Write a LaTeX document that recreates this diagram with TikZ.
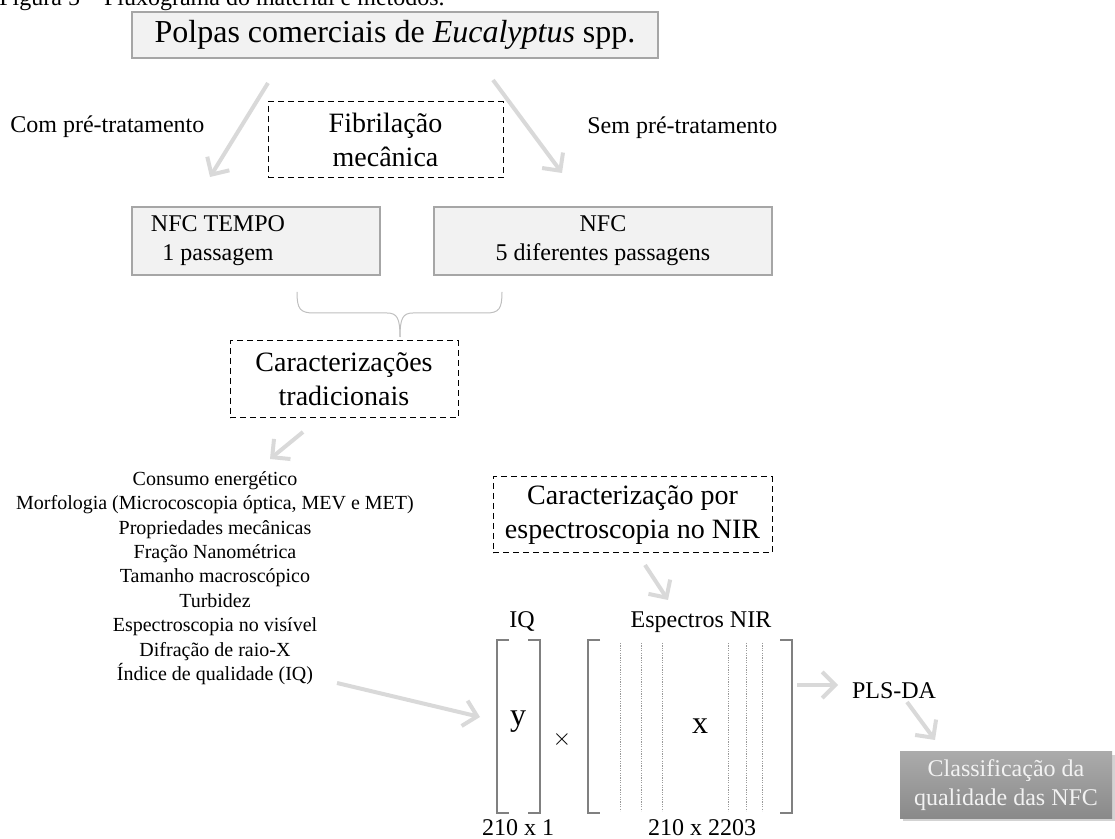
\documentclass[tikz,border=0pt]{standalone}
\usepackage{fontspec}
\setmainfont{Liberation Serif}
\usepackage{tikz}
\usetikzlibrary{positioning}
\usetikzlibrary{arrows.meta}
\usetikzlibrary{shadows}

\definecolor{boxfill}{HTML}{F2F2F2}
\definecolor{boxline}{HTML}{A6A6A6}
\definecolor{arrowgray}{HTML}{D9D9D9}
\definecolor{bracegray}{HTML}{BFBFBF}
\definecolor{matgray}{HTML}{808080}
\definecolor{clstop}{HTML}{ABABAB}
\definecolor{clsbot}{HTML}{8A8A8A}
\definecolor{clstext}{HTML}{F2F2F2}

\tikzset{graybox/.style={draw=boxline,fill=boxfill,line width=0.6pt,inner sep=0pt,align=center}}
\tikzset{dashbox/.style={draw,line width=0.5pt,dash pattern=on 3pt off 2pt,inner sep=0pt,align=center,font=\fontsize{14}{17}\selectfont}}
\tikzset{flowarrow/.style={draw=arrowgray,line width=2pt,-{Straight Barb[length=6.5pt,width=13pt]}}}
\tikzset{lbl/.style={inner sep=0pt,font=\fontsize{12}{14.5}\selectfont}}

\begin{document}
\begin{tikzpicture}[x=0.5pt,y=-0.5pt]
\useasboundingbox (0,0) rectangle (1115,839);
\node[lbl,anchor=base west] (caption) at (-1,6) {Figura 5 -- Fluxograma do material e métodos.};
\node[graybox,minimum width=263pt,minimum height=23pt,font=\fontsize{16}{19}\selectfont] (polpas) at (395,35) {Polpas comerciais de \textit{Eucalyptus} spp.};
\node[dashbox,minimum width=117.5pt,minimum height=38pt] (fibril) at (385.5,140) {Fibrilação\\mecânica};
\node[lbl,anchor=base west] (com) at (10,133) {Com pré-tratamento};
\node[lbl,anchor=base west] (sem) at (587,134) {Sem pré-tratamento};
\coordinate (polpasL) at (268,83);
\coordinate (polpasR) at (493,80);
\coordinate (tempoin) at (210,177);
\coordinate (nfcin) at (562,173);
\draw[flowarrow] (polpasL) -- (tempoin);
\draw[flowarrow] (polpasR) -- (nfcin);
% NFC
\node[graybox,minimum width=124pt,minimum height=34pt] (tempo) at (256,241) {};
\node[lbl,align=center] (tempotxt) at (218,241) {NFC TEMPO\\1 passagem};
\node[graybox,lbl,minimum width=169pt,minimum height=34pt] (nfc) at (603,241) {NFC\\5 diferentes passagens};
% chave
\coordinate (bracetip) at (400,337);
\draw[bracegray,line width=0.5pt] (297,292) .. controls (297,309) and (300,313) .. (314,313) -- (387,313) .. controls (397,313) and (400,318) .. (bracetip);
\draw[bracegray,line width=0.5pt] (502,292) .. controls (502,309) and (499,313) .. (486,313) -- (413,313) .. controls (403,313) and (400,318) .. (bracetip);
\node[dashbox,minimum width=114pt,minimum height=38.5pt] (trad) at (344,379.5) {Caracterizações\\tradicionais};
\coordinate (tradout) at (303,432);
\coordinate (listain) at (270,459);
\draw[flowarrow] (tradout) -- (listain);
\node[inner sep=0pt,align=center,font=\fontsize{10}{12.2}\selectfont] (lista) at (215,578) {Consumo energético\\Morfologia (Microcoscopia óptica, MEV e MET)\\Propriedades mecânicas\\Fração Nanométrica\\Tamanho macroscópico\\Turbidez\\Espectroscopia no visível\\Difração de raio-X\\Índice de qualidade (IQ)};
\coordinate (listaout) at (337,683);
\coordinate (yin) at (480,717);
\draw[flowarrow] (listaout) -- (yin);
% NIR
\node[dashbox,minimum width=139.5pt,minimum height=38pt] (nir) at (632.5,515) {Caracterização por\\espectroscopia no NIR};
\coordinate (nirout) at (645,565);
\coordinate (xin) at (668,600);
\draw[flowarrow] (nirout) -- (xin);
\node[lbl,anchor=base] (iq) at (522,628) {IQ};
\node[lbl,anchor=base] (espectros) at (701,628) {Espectros NIR};
\draw[matgray,line width=1pt] (509,640) -- (497,640) -- (497,813) -- (509,813);
\draw[matgray,line width=1pt] (528,640) -- (540,640) -- (540,813) -- (528,813);
\draw[matgray,line width=1pt] (600,640) -- (588,640) -- (588,813) -- (600,813);
\draw[matgray,line width=1pt] (780,640) -- (792,640) -- (792,813) -- (780,813);
\foreach \xx in {620,641,662,728,746,762} {
\draw[matgray!80,line width=0.3pt,dash pattern=on 0.6pt off 0.6pt] (\xx,643) -- (\xx,811);
}
\node[inner sep=0pt,font=\fontsize{16}{19}\selectfont] (y) at (518,722) {y};
\node[lbl] (times) at (562,740) {$\times$};
\node[inner sep=0pt,font=\fontsize{16}{19}\selectfont] (x) at (700,726) {x};
\node[lbl,anchor=base] (dimy) at (518,835) {210 x 1};
\node[lbl,anchor=base] (dimx) at (702,835) {210 x 2203};
\coordinate (xout) at (797,685);
\coordinate (plsin) at (838,685);
\draw[flowarrow] (xout) -- (plsin);
\node[lbl,anchor=base] (pls) at (894,698) {PLS-DA};
\coordinate (plsout) at (907,702);
\coordinate (clsin) at (935,740);
\draw[flowarrow] (plsout) -- (clsin);
\node[lbl,align=center,text=clstext,minimum width=106pt,minimum height=33pt,top color=clstop,bottom color=clsbot,drop shadow={shadow xshift=1.5pt,shadow yshift=-1.5pt,opacity=0.35}] (cls) at (1006,785) {Classificação da\\qualidade das NFC};
\end{tikzpicture}
\end{document}
